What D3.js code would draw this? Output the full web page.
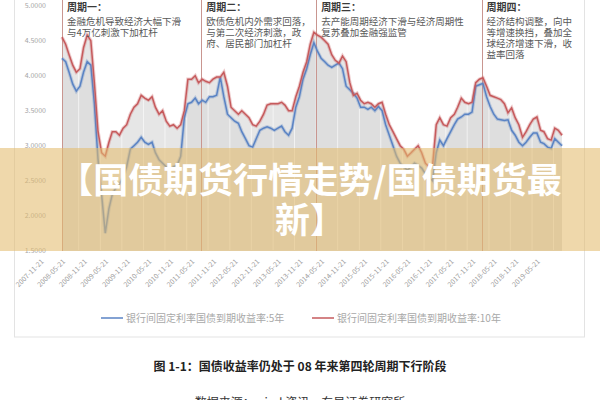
<!DOCTYPE html>
<html>
<head>
<meta charset="utf-8">
<script src="https://cdn.jsdelivr.net/npm/d3@7"></script>
<style>
  body { margin: 0; background: #fff; }
  svg { display: block; font-family: "Noto Sans CJK SC", "Noto Sans", sans-serif; }
</style>
</head>
<body>
<svg id="chart" width="600" height="400"></svg>
<script>
// monthly points, 2008-01 .. 2019-08
const startMonth = new Date(2008, 0, 1);
const endMonth = new Date(2019, 7, 1);

const yield10y = [
    4.55, 4.45, 4.3, 4.15, 4.05, 4.1, 4.4, 4.58, 4.5, 3.9, 3.2, 2.9,
    2.85, 3.05, 3.2, 3.2, 3.15, 3.25, 3.3, 3.45, 3.55, 3.6, 3.72, 3.68,
    3.65, 3.7, 3.55, 3.45, 3.5, 3.35, 3.28, 3.3, 3.25, 3.3, 3.5, 3.95,
    3.95, 4.0, 3.9, 3.95, 3.92, 3.9, 3.95, 3.98, 3.98, 4.05, 3.85, 3.55,
    3.5, 3.45, 3.5, 3.45, 3.4, 3.3, 3.28, 3.35, 3.45, 3.58, 3.6, 3.6,
    3.6, 3.62, 3.58, 3.5, 3.5, 3.7, 3.85, 4.05, 4.2, 4.45, 4.62, 4.58,
    4.55, 4.5, 4.45, 4.3, 4.22, 4.18, 4.28, 4.2, 3.9, 3.72, 3.75, 3.65,
    3.6, 3.62, 3.6, 3.55, 3.6, 3.62, 3.45, 3.3, 3.2, 3.1, 3.0, 2.95,
    2.85, 2.9, 2.95, 3.0, 2.9, 2.75, 2.7, 2.72, 3.3, 3.4, 3.3, 3.28,
    3.4, 3.45, 3.55, 3.68, 3.62, 3.6, 3.62, 3.9, 3.95, 3.97, 3.85, 3.72,
    3.7, 3.68, 3.66, 3.6, 3.47, 3.54, 3.4, 3.3, 3.12, 3.2, 3.3, 3.38,
    3.41, 3.22, 3.2, 3.1, 3.08, 3.25, 3.22, 3.15
];

const yield5y = [
    4.25, 4.2, 4.05, 3.88, 3.78, 3.85, 4.05, 4.2, 4.15, 3.6, 2.8, 2.3,
    1.75, 2.1, 2.3, 2.4, 2.45, 2.55, 2.7, 2.95, 3.0, 3.05, 3.12, 3.05,
    3.02, 3.05, 2.9, 2.8, 2.75, 2.7, 2.65, 2.7, 2.72, 2.85, 3.4, 3.6,
    3.62, 3.68, 3.6, 3.65, 3.62, 3.7, 3.7, 3.72, 3.98, 3.7, 3.45, 3.4,
    3.35, 3.32, 3.2, 3.1, 3.0, 2.98, 3.1, 3.22, 3.25, 3.27, 3.25, 3.22,
    3.25, 3.28, 3.2, 3.15, 3.25, 3.55, 3.7, 3.95, 4.1, 4.3, 4.47, 4.35,
    4.25, 4.2, 4.15, 4.12, 4.15, 4.18, 4.1, 3.85, 3.8, 3.75, 3.68, 3.55,
    3.55, 3.52, 3.55, 3.5, 3.56, 3.5, 3.3, 3.15, 3.0, 2.85, 2.75, 2.7,
    2.65, 2.7, 2.75, 2.72, 2.68, 2.6, 2.55, 2.5, 2.9, 3.08, 3.0, 3.1,
    3.2, 3.3, 3.38, 3.41, 3.45, 3.45, 3.48, 3.85, 3.87, 3.89, 3.7, 3.56,
    3.45, 3.38, 3.37, 3.36, 3.37, 3.22, 3.15, 3.05, 3.0, 3.05, 3.12, 3.18,
    3.18, 3.05, 3.03, 2.98, 2.96, 3.1, 3.05, 3.0
];

const xTickLabels = [
    "2007-11-21", "2008-05-21", "2008-11-21", "2009-05-21", "2009-11-21", "2010-05-21",
    "2010-11-21", "2011-05-21", "2011-11-21", "2012-05-21", "2012-11-21", "2013-05-21",
    "2013-11-21", "2014-05-21", "2014-11-21", "2015-05-21", "2015-11-21", "2016-05-21",
    "2016-11-21", "2017-05-21", "2017-11-21", "2018-05-21", "2018-11-21", "2019-05-21"
];
const yTicks = [1.5, 2.0, 2.5, 3.0, 3.5, 4.0, 4.5, 5.0];

const periodStarts = ["2008-01-01", "2011-03-25", "2013-11-20", "2017-09-20"];
const periodTitles = ["周期一：", "周期二：", "周期三：", "周期四："];
const periodNotes = [
    ["金融危机导致经济大幅下滑", "与4万亿刺激下加杠杆"],
    ["欧债危机内外需求回落，", "与第二次经济刺激，政", "府、居民部门加杠杆"],
    ["去产能周期经济下滑与经济周期性", "复苏叠加金融强监管"],
    ["经济结构调整，向中", "等增速换挡，叠加全", "球经济增速下滑，收", "益率回落"]
];

const seriesNames = ["银行间固定利率国债到期收益率:5年", "银行间固定利率国债到期收益率:10年"];
const seriesColors = ["#5a83c4", "#c65a5c"];

const titleLines = ["【国债期货行情走势/国债期货最", "新】"];
const caption = "图 1-1：国债收益率仍处于 08 年来第四轮周期下行阶段";
const sourceNote = "数据来源：wind 资讯，东吴证券研究所";

const svg = d3.select("#chart");
const parse = d3.timeParse("%Y-%m-%d");
const months = d3.timeMonth.range(startMonth, d3.timeMonth.offset(endMonth, 1));

const x = d3.scaleTime().domain([startMonth, endMonth]).range([62, 562]);
const y = d3.scaleLinear().domain([1.5, 5]).range([250.7, 5.7]);

const data = months.map((d, i) => ({ date: d, v5: yield5y[i], v10: yield10y[i] }));

// card
svg.append("rect")
    .attr("x", 14.5).attr("y", -2)
    .attr("width", 570).attr("height", 339)
    .attr("fill", "#fff")
    .attr("stroke", "#e3e3e3");

// gray area under the curves
const area10 = d3.area().x(d => x(d.date)).y0(y(1.5)).y1(d => y(d.v10));
const area5 = d3.area().x(d => x(d.date)).y0(y(1.5)).y1(d => y(d.v5));
svg.append("path").datum(data).attr("d", area10).attr("fill", "#e6e6e6");
svg.append("path").datum(data).attr("d", area5).attr("fill", "#dedede");

// faint vertical grid
xTickLabels.forEach(t => {
    const xx = x(parse(t));
    if (xx < 62) return;
    svg.append("line")
        .attr("x1", xx).attr("x2", xx)
        .attr("y1", 0).attr("y2", 250)
        .attr("stroke", "#fff")
        .attr("stroke-opacity", 0.6);
});

// period separators
periodStarts.forEach(p => {
    const xx = Math.round(x(parse(p))) + 0.5;
    svg.append("line")
        .attr("x1", xx).attr("x2", xx)
        .attr("y1", 0).attr("y2", 251)
        .attr("stroke", "#c99690")
        .attr("stroke-width", 1);
});

// lines (soft halo then core)
const keys = ["v5", "v10"];
keys.forEach((k, i) => {
    const line = d3.line().x(d => x(d.date)).y(d => y(d[k]));
    svg.append("path").datum(data)
        .attr("d", line)
        .attr("fill", "none")
        .attr("stroke", seriesColors[i])
        .attr("stroke-opacity", 0.3)
        .attr("stroke-width", 3.5);
    svg.append("path").datum(data)
        .attr("d", line)
        .attr("fill", "none")
        .attr("stroke", seriesColors[i])
        .attr("stroke-width", 1.5);
});

// y labels
yTicks.forEach(v => {
    svg.append("text")
        .attr("x", 46)
        .attr("y", y(v) + 2.5)
        .attr("text-anchor", "end")
        .attr("font-size", "7px")
        .attr("fill", "#a5a5a5")
        .text(v.toFixed(4));
});

// x labels
xTickLabels.forEach(t => {
    const xx = x(parse(t)) - 13;
    svg.append("text")
        .attr("transform", `translate(${xx},262) rotate(-45)`)
        .attr("text-anchor", "end")
        .attr("font-size", "7px")
        .attr("fill", "#9a9a9a")
        .text(t);
});

// period notes
periodStarts.forEach((p, i) => {
    const x0 = x(parse(p)) + 5;
    svg.append("text")
        .attr("x", x0).attr("y", 11)
        .attr("font-size", "10px")
        .attr("font-weight", "bold")
        .attr("fill", "#3a3a3a")
        .text(periodTitles[i]);
    periodNotes[i].forEach((s, j) => {
        svg.append("text")
            .attr("x", x0).attr("y", 24.5 + j * 11)
            .attr("font-size", "9.5px")
            .attr("fill", "#585858")
            .text(s);
    });
});

// legend
const legendX = [101, 312];
seriesNames.forEach((name, i) => {
    svg.append("line")
        .attr("x1", legendX[i]).attr("x2", legendX[i] + 22)
        .attr("y1", 318).attr("y2", 318)
        .attr("stroke", seriesColors[i])
        .attr("stroke-width", 1.5);
    svg.append("text")
        .attr("x", legendX[i] + 25).attr("y", 321.5)
        .attr("font-size", "10px")
        .attr("fill", "#a8a8a8")
        .text(name);
});

// caption and source
svg.append("text")
    .attr("x", 300).attr("y", 371)
    .attr("text-anchor", "middle")
    .attr("font-size", "12px")
    .attr("font-weight", "bold")
    .attr("fill", "#222")
    .text(caption);

svg.append("text")
    .attr("x", 300).attr("y", 407)
    .attr("text-anchor", "middle")
    .attr("font-size", "12px")
    .attr("fill", "#333")
    .text(sourceNote);

// title banner over the chart
svg.append("rect")
    .attr("x", 0).attr("y", 148)
    .attr("width", 600).attr("height", 103)
    .attr("fill", "rgb(228,188,110)")
    .attr("fill-opacity", 0.58);

titleLines.forEach((s, i) => {
    svg.append("text")
        .attr("x", 310).attr("y", 193 + i * 40)
        .attr("text-anchor", "middle")
        .attr("font-size", "35px")
        .attr("font-weight", "bold")
        .attr("fill", "#fff")
        .text(s);
});
</script>
</body>
</html>
